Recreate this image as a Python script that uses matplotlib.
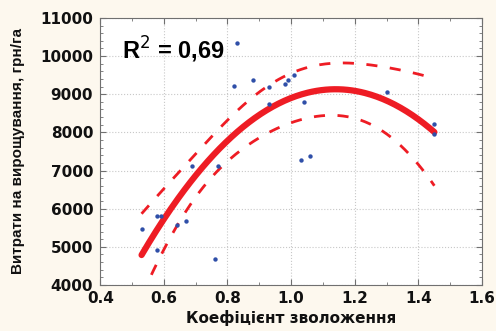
import numpy as np
import matplotlib
matplotlib.use("Agg")
import matplotlib.pyplot as plt
from matplotlib.ticker import MultipleLocator

# moisture coefficient vs. growing costs (UAH/ha)
moisture = [0.83, 0.82, 0.88, 0.93, 0.98, 0.99, 0.93, 1.01, 1.04, 1.30,
            1.45, 1.45, 1.03, 1.06, 0.69, 0.77, 0.58, 0.59, 0.53, 0.64,
            0.67, 0.58, 0.76]
costs = [10340, 9220, 9370, 9200, 9260, 9370, 8750, 9490, 8790, 9060,
         8210, 7950, 7280, 7380, 7120, 7120, 5820, 5820, 5470, 5580,
         5680, 4920, 4670]
r2_label = "R$^2$ = 0,69"

x = np.array(moisture)
y = np.array(costs)

# quadratic fit with 95% confidence band for the mean
coef = np.polyfit(x, y, 2)
X = np.vander(x, 3)
resid = y - X @ coef
n = len(x)
s2 = resid @ resid / (n - 3)
cov = s2 * np.linalg.inv(X.T @ X)
xs = np.linspace(x.min(), x.max(), 200)
Xs = np.vander(xs, 3)
fit = Xs @ coef
se = np.sqrt(np.einsum("ij,jk,ik->i", Xs, cov, Xs))
band = 1.93 * se

plt.rcParams["font.family"] = ["Liberation Sans", "DejaVu Sans"]

fig = plt.figure(figsize=(4.96, 3.31), dpi=100, facecolor="#fdf8ee")
ax = fig.add_axes([0.202, 0.139, 0.770, 0.807])
ax.set_facecolor("white")

red = "#ee1c24"
ax.plot(xs, fit, color=red, lw=4.5, solid_capstyle="round", zorder=3)
ax.plot(xs, fit + band, color=red, lw=2, ls=(0, (4, 4.5)), zorder=3)
ax.plot(xs, fit - band, color=red, lw=2, ls=(0, (4, 4.5)), zorder=3)
ax.scatter(x, y, s=10, color="#2f4fa8", zorder=4, linewidths=0)

ax.set_xlim(0.4, 1.6)
ax.set_ylim(4000, 11000)
ax.xaxis.set_major_locator(MultipleLocator(0.2))
ax.xaxis.set_minor_locator(MultipleLocator(0.1))
ax.yaxis.set_major_locator(MultipleLocator(1000))
ax.yaxis.set_minor_locator(MultipleLocator(200))
ax.xaxis.set_major_formatter(plt.FuncFormatter(lambda v, p: f"{v:.1f}"))
ax.tick_params(which="both", direction="in", top=True, right=True,
               color="#707070", labelsize=11)
ax.tick_params(which="major", length=4)
ax.tick_params(which="minor", length=2.5)
for lbl in ax.get_xticklabels() + ax.get_yticklabels():
    lbl.set_fontweight("bold")
    lbl.set_family("DejaVu Sans")
    lbl.set_color("#111111")
ax.tick_params(axis="x", pad=4)
ax.tick_params(axis="y", pad=5)
ax.grid(True, which="major", color="#c8c8c8", ls=":", lw=0.8)
for sp in ax.spines.values():
    sp.set_color("#707070")

ax.set_xlabel("Коефіцієнт зволоження", fontsize=11, fontweight="bold",
              family="DejaVu Sans", labelpad=3, color="#111111")
ax.set_ylabel("Витрати на вирощування, грн/га", fontsize=11, fontweight="bold",
              labelpad=11, color="#111111")

ax.text(0.0575, 0.88, r2_label, transform=ax.transAxes, fontsize=17,
        fontweight="bold", va="center", ha="left")

fig.savefig("out.png", dpi=100, facecolor=fig.get_facecolor())
